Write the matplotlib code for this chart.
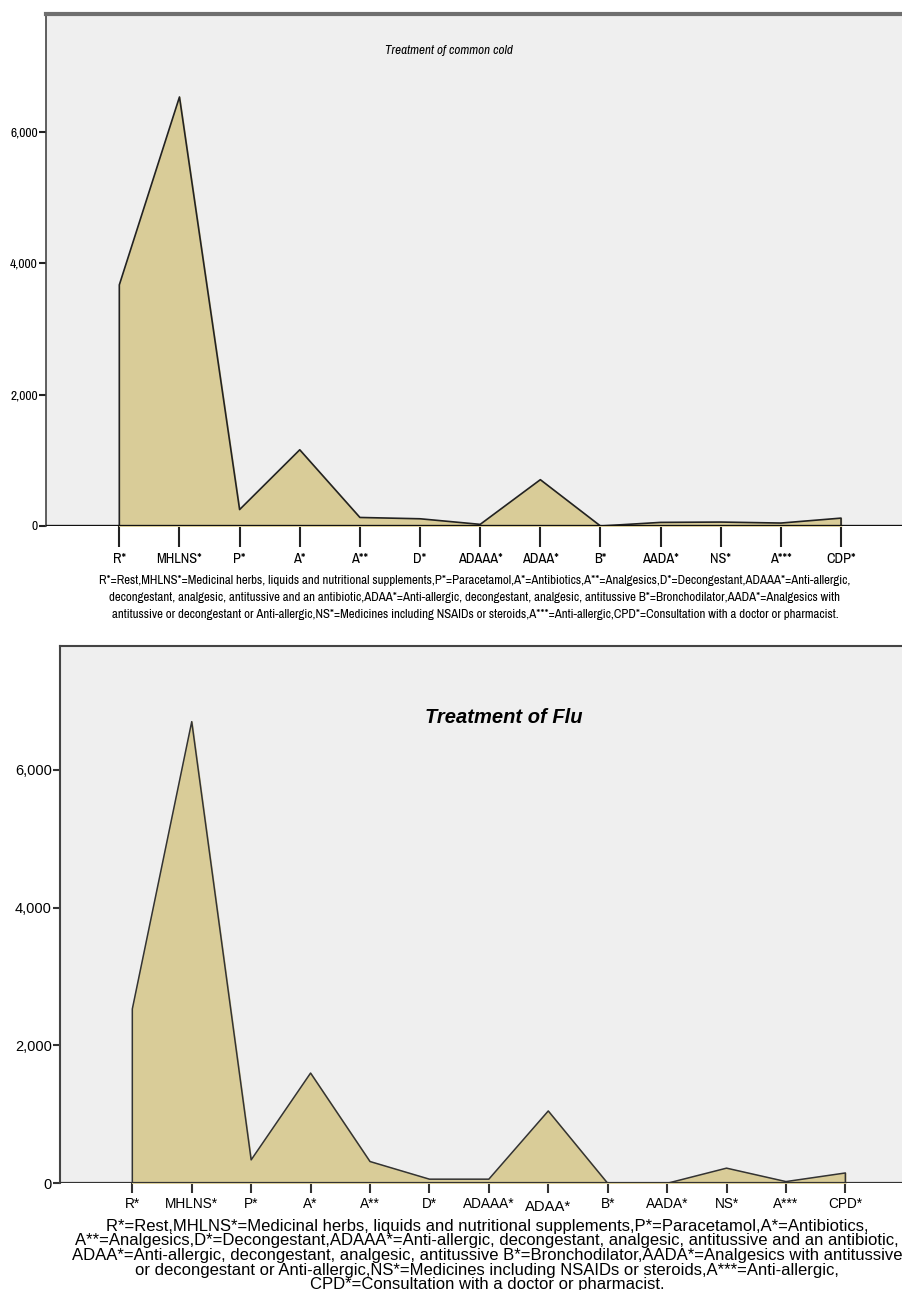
import matplotlib.pyplot as plt
import numpy as np
from matplotlib import font_manager as fm
from matplotlib.ticker import FuncFormatter

# data
cold_labels = ["R*", "MHLNS*", "P*", "A*", "A**", "D*", "ADAAA*", "ADAA*", "B*",
               "AADA*", "NS*", "A***", "CDP*"]
cold_values = [3670, 6530, 250, 1160, 130, 110, 25, 705, 0, 55, 60, 45, 120]

flu_labels = ["R*", "MHLNS*", "P*", "A*", "A**", "D*", "ADAAA*", "ADAA*", "B*",
              "AADA*", "NS*", "A***", "CPD*"]
flu_values = [2530, 6700, 340, 1600, 316, 60, 60, 1050, 0, 0, 220, 25, 150]

yticks = [0, 2000, 4000, 6000]

cold_caption = [
    "R*=Rest,MHLNS*=Medicinal herbs, liquids and nutritional supplements,P*=Paracetamol,A*=Antibiotics,A**=Analgesics,D*=Decongestant,ADAAA*=Anti-allergic,",
    "decongestant, analgesic, antitussive and an antibiotic,ADAA*=Anti-allergic, decongestant, analgesic, antitussive B*=Bronchodilator,AADA*=Analgesics with",
    "antitussive or decongestant or Anti-allergic,NS*=Medicines including NSAIDs or steroids,A***=Anti-allergic,CPD*=Consultation with a doctor or pharmacist.",
]
flu_caption = [
    "R*=Rest,MHLNS*=Medicinal herbs, liquids and nutritional supplements,P*=Paracetamol,A*=Antibiotics,",
    "A**=Analgesics,D*=Decongestant,ADAAA*=Anti-allergic, decongestant, analgesic, antitussive and an antibiotic,",
    "ADAA*=Anti-allergic, decongestant, analgesic, antitussive B*=Bronchodilator,AADA*=Analgesics with antitussive",
    "or decongestant or Anti-allergic,NS*=Medicines including NSAIDs or steroids,A***=Anti-allergic,",
    "CPD*=Consultation with a doctor or pharmacist.",
]

FILL = "#d9cc98"
BG = "#efefef"
arial = ["Liberation Sans", "DejaVu Sans"]


# look for a narrow / condensed face for the upper (SPSS style) chart
def find_narrow(italic=False):
    best = None
    for f in fm.fontManager.ttflist:
        if f.weight not in (400, "normal", "regular", "book"):
            continue
        if (f.style != "normal") != italic:
            continue
        n = f.name.lower()
        score = 0
        if "narrow" in n:
            score = 3
        elif "condensed" in n and "semi" not in n:
            score = 2
        elif f.stretch in ("condensed", "extra-condensed", "semi-condensed"):
            score = 1
        if score and (best is None or score > best[0]):
            best = (score, f.fname)
    return best[1] if best else None


nf = find_narrow()
nfi = find_narrow(italic=True) or nf


def narrow_prop(size, italic=False):
    path = nfi if italic else nf
    if path:
        return fm.FontProperties(fname=path, size=size)
    return fm.FontProperties(family="Liberation Sans", size=size,
                             style="italic" if italic else "normal")


fmt = FuncFormatter(lambda v, p: "{:,.0f}".format(v))

fig = plt.figure(figsize=(9.03, 12.9), dpi=100)
renderer = fig.canvas.get_renderer()


def fitted_size(s, target, prop):
    # font size giving about the width seen in the reference
    t = fig.text(0, 0, s, fontproperties=prop)
    w = t.get_window_extent(renderer).width
    size = t.get_fontsize() * target / w
    t.remove()
    return size


def py(p):
    return 1 - p / 1290


# ---- common cold ----
ax1 = fig.add_axes([46 / 903, py(526), 1 - 46 / 903, 512 / 1290])
x1 = np.arange(len(cold_values))
ax1.set_facecolor(BG)
ax1.fill_between(x1, cold_values, 0, color=FILL, zorder=2)
ax1.plot(np.r_[x1[0], x1, x1[-1]], np.r_[0, cold_values, 0], color="#222222", lw=1.2, zorder=3)
ax1.axhline(0, color="#111111", lw=2.4, zorder=4)
ax1.set_xlim(-1.219, 13.03)
ax1.set_ylim(0, 7793)
ax1.set_xticks(x1)
ax1.set_xticklabels(cold_labels)
ax1.set_yticks(yticks)
ax1.yaxis.set_major_formatter(fmt)
ax1.tick_params(axis="x", length=15, width=1.5, color="#222222", pad=4)
ax1.tick_params(axis="y", length=5, width=1.5, color="#222222", pad=1)
for s in ["right", "bottom"]:
    ax1.spines[s].set_visible(False)
ax1.spines["top"].set_color("#6f6f6f")
ax1.spines["top"].set_linewidth(3)
ax1.spines["left"].set_color("#444444")
ax1.spines["left"].set_linewidth(1.2)

xsize = fitted_size("MHLNS*", 41, narrow_prop(10)) * 1.12
for lb in ax1.get_xticklabels():
    lb.set_fontproperties(narrow_prop(xsize))
ysize = fitted_size("6,000", 25, narrow_prop(10)) * 1.1
for lb in ax1.get_yticklabels():
    lb.set_fontproperties(narrow_prop(ysize))

tsize = fitted_size("Treatment of common cold", 122, narrow_prop(9, True)) * 1.05
fig.text(449 / 903, py(51), "Treatment of common cold",
         fontproperties=narrow_prop(tsize, italic=True), ha="center", va="center")

csize = fitted_size(cold_caption[0], 714, narrow_prop(10)) * 1.06
for line, yy in zip(cold_caption, [580, 597.5, 615]):
    fig.text(475 / 903, py(yy), line, fontproperties=narrow_prop(csize),
             ha="center", va="center")

# ---- flu ----
ax2 = fig.add_axes([60 / 903, py(1183.3), 1 - 60 / 903, 537.3 / 1290])
x2 = np.arange(len(flu_values))
ax2.set_facecolor(BG)
ax2.fill_between(x2, flu_values, 0, color=FILL, zorder=2)
ax2.plot(np.r_[x2[0], x2, x2[-1]], np.r_[0, flu_values, 0], color="#333333", lw=1.1, zorder=3)
ax2.axhline(0, color="#333333", lw=1.6, zorder=4)
ax2.set_xlim(-1.217, 12.97)
ax2.set_ylim(0, 7798)
ax2.set_xticks(x2)
ax2.set_xticklabels(flu_labels, family=arial, fontsize=9.8)
adaa = ax2.get_xticklabels()[7]
adaa.set_fontsize(10.6)
adaa.set_y(-0.005)
ax2.set_yticks(yticks)
ax2.yaxis.set_major_formatter(fmt)
for lb in ax2.get_yticklabels():
    lb.set_family(arial)
    lb.set_fontsize(10.5)
ax2.tick_params(axis="x", length=7, width=1.5, color="#333333", pad=3)
ax2.tick_params(axis="y", length=5, width=1.5, color="#333333", pad=1)
for s in ["right", "bottom"]:
    ax2.spines[s].set_visible(False)
ax2.spines["top"].set_color("#444444")
ax2.spines["top"].set_linewidth(1.5)
ax2.spines["left"].set_color("#444444")
ax2.spines["left"].set_linewidth(1.5)
fig.text(504 / 903, py(717), "Treatment of Flu", family=arial, style="italic",
         weight="bold", fontsize=14.5, ha="center", va="center")

fsize = fitted_size(flu_caption[1], 822, fm.FontProperties(family=arial, size=12))
for line, yy in zip(flu_caption, [1226, 1240.75, 1255.5, 1270.25, 1285]):
    fig.text(487 / 903, py(yy), line, family=arial, fontsize=fsize,
             ha="center", va="center")

fig.savefig("out.png", dpi=100)
